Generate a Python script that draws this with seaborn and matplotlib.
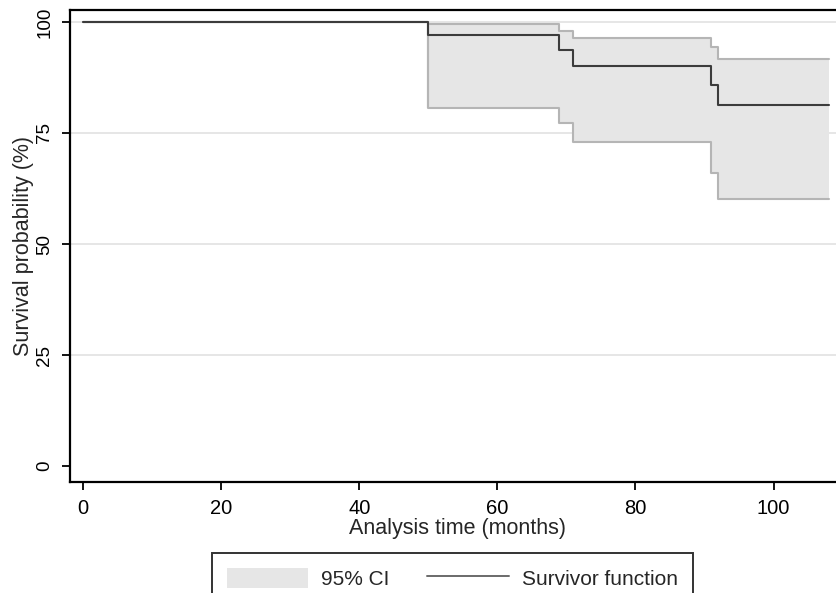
import matplotlib
matplotlib.use("Agg")
import matplotlib.pyplot as plt
import seaborn as sns
import pandas as pd
from matplotlib.patches import Patch
from matplotlib.lines import Line2D

# Data
times = [0, 50, 69, 71, 91, 92, 108]
survival = [100, 97.1, 93.7, 90.2, 85.7, 81.2, 81.2]
upper_ci = [100, 99.6, 98.0, 96.5, 94.3, 91.6, 91.6]
lower_ci = [100, 80.7, 77.2, 73.0, 66.0, 60.1, 60.1]
x_ticks = [0, 20, 40, 60, 80, 100]
y_ticks = [0, 25, 50, 75, 100]

sns.set_style("white")
plt.rcParams['font.family'] = ['Liberation Sans', 'DejaVu Sans']

W, H = 836, 593
fig = plt.figure(figsize=(W / 100, H / 100), dpi=100)
left, right, top, bottom = 70, 846, 10, 482
ax = fig.add_axes([left / W, 1 - bottom / H, (right - left) / W, (bottom - top) / H])

df = pd.DataFrame({"time": times, "surv": survival, "lo": lower_ci, "hi": upper_ci})

# CI band
ax.fill_between(df["time"], df["lo"], df["hi"], step="post", color="#e6e6e6", lw=0, zorder=1)
sns.lineplot(data=df, x="time", y="hi", drawstyle="steps-post", color="#b5b5b5", lw=1.5,
             estimator=None, ax=ax, zorder=2)
sns.lineplot(data=df, x="time", y="lo", drawstyle="steps-post", color="#b5b5b5", lw=1.5,
             estimator=None, ax=ax, zorder=2)
ax.vlines(df["time"].iloc[1], df["lo"].iloc[1], df["hi"].iloc[1], color="#b5b5b5", lw=1.5, zorder=2)
# Survivor function
sns.lineplot(data=df, x="time", y="surv", drawstyle="steps-post", color="#3c3c3c", lw=1.5,
             estimator=None, ax=ax, zorder=3)

ax.set_xlim(-1.9, 110.5)
ax.set_ylim(-3.6, 102.7)
ax.set_xticks(x_ticks)
ax.set_yticks(y_ticks)
ax.set_yticklabels([str(v) for v in y_ticks], rotation=90, va="center")
for v in [25, 50, 75, 100]:
    ax.axhline(v, color="#e2e2e2", lw=1.2, zorder=0)

for s in ax.spines.values():
    s.set_color("black")
    s.set_linewidth(1.6)
ax.tick_params(axis="both", direction="out", length=6, width=1.3, color="black",
               labelcolor="black", pad=6, left=True, bottom=True)
ax.tick_params(axis="x", labelsize=14.5)
ax.tick_params(axis="y", labelsize=13.5)
ax.set_xlabel("Analysis time (months)", fontsize=15.5, labelpad=0)
ax.set_ylabel("Survival probability (%)", fontsize=15.5, labelpad=2)

handles = [Patch(facecolor="#e6e6e6", edgecolor="none"),
           Line2D([0], [0], color="#6a6a6a", lw=1.4)]
leg = fig.legend(handles, ["95% CI", "Survivor function"], loc="upper left",
                 bbox_to_anchor=(212 / W, 1 - 553 / H), ncol=2, fontsize=15,
                 frameon=True, fancybox=False, edgecolor="black", handlelength=3.9,
                 handleheight=1.1, columnspacing=1.8, borderpad=0.7, handletextpad=0.65,
                 borderaxespad=0)
leg.get_frame().set_linewidth(1.4)

fig.savefig("out.png", dpi=100)
